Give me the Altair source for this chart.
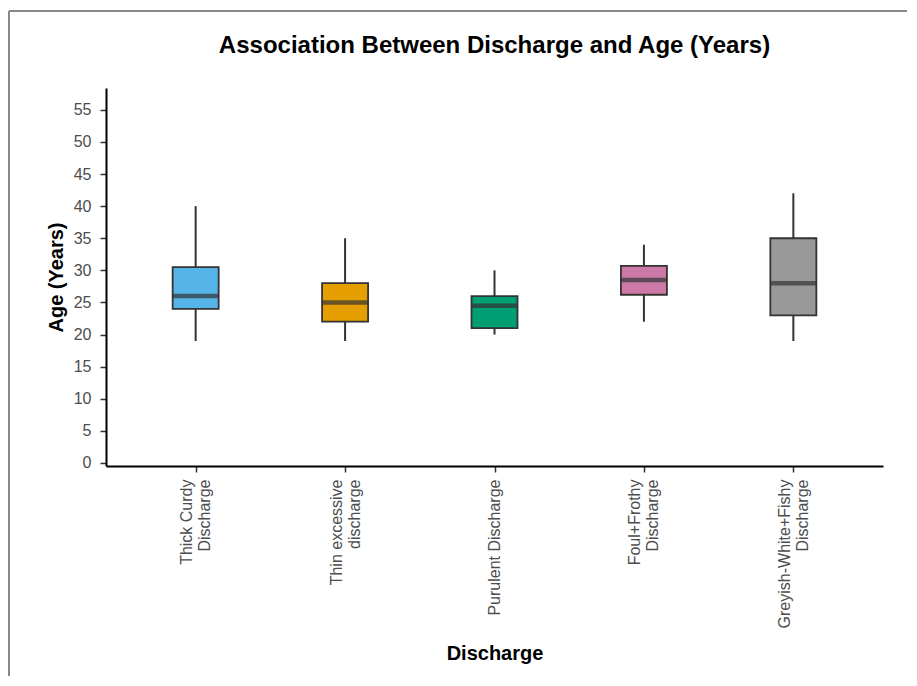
import altair as alt
import pandas as pd

categories = [
    "Thick Curdy\nDischarge",
    "Thin excessive\ndischarge",
    "Purulent Discharge",
    "Foul+Frothy\nDischarge",
    "Greyish-White+Fishy\nDischarge",
]
whisker_low = [19, 19, 20, 22, 19]
q1 = [24, 22, 21, 26.2, 23]
median = [26, 25, 24.5, 28.5, 28]
q3 = [30.5, 28, 26, 30.7, 35]
whisker_high = [40, 35, 30, 34, 42]
colors = ["#56B4E9", "#E69F00", "#009E73", "#CC79A7", "#999999"]
y_ticks = list(range(0, 60, 5))

df = pd.DataFrame({
    "cat": categories,
    "lo": whisker_low,
    "q1": q1,
    "med": median,
    "q3": q3,
    "hi": whisker_high,
})

FONT = "Liberation Sans"
W, H = 777, 378

xenc = alt.X(
    "cat:N",
    sort=categories,
    scale=alt.Scale(type="point", padding=0.6),
    axis=alt.Axis(
        title="Discharge",
        labelAngle=270,
        labelAlign="right",
        labelBaseline="middle",
        labelExpr="split(datum.label, '\\n')",
        labelLineHeight=18,
        labelFontSize=16,
        labelColor="#4d4d4d",
        labelFont=FONT,
        labelPadding=7,
        labelOffset={"condition": {"test": "indexof(datum.value, '\\n') >= 0", "value": -9}, "value": 0},
        tickSize=6,
        tickColor="#333333",
        tickWidth=1.5,
        domainColor="#000000",
        domainWidth=2,
        titleFont=FONT,
        titleFontSize=20,
        titleFontWeight="bold",
        titleColor="#000000",
        titlePadding=16,
        grid=False,
    ),
)
yscale = alt.Scale(domain=[-0.47, 58.4], nice=False, zero=False)
yaxis = alt.Axis(
    title="Age (Years)",
    values=y_ticks,
    labelFontSize=16,
    labelColor="#4d4d4d",
    labelFont=FONT,
    labelPadding=9,
    tickSize=6,
    tickColor="#333333",
    tickWidth=1.5,
    domainColor="#000000",
    domainWidth=2,
    titleFont=FONT,
    titleFontSize=20,
    titleFontWeight="bold",
    titleColor="#000000",
    titlePadding=7,
    grid=False,
)
color = alt.Color("cat:N", scale=alt.Scale(domain=categories, range=colors), legend=None)

base = alt.Chart(df)

one = alt.Data(values=[{"a": 1}])
frame_top = alt.Chart(one).mark_rule(color="#888888", strokeWidth=2).encode(
    x=alt.value(-97), x2=alt.value(801), y=alt.value(-77)
)
frame_left = alt.Chart(one).mark_rule(color="#888888", strokeWidth=2).encode(
    x=alt.value(-97), y=alt.value(-77), y2=alt.value(588)
)

whisk = base.mark_rule(color="#333333", strokeWidth=2).encode(
    x=xenc, y=alt.Y("lo:Q", scale=yscale, axis=yaxis), y2="hi:Q"
)
box = base.mark_bar(size=46, stroke="#333333", strokeWidth=1.8).encode(
    x=xenc, y=alt.Y("q1:Q", scale=yscale, axis=yaxis), y2="q3:Q", color=color
)
med = base.mark_tick(size=46, thickness=4.5, color="#333333").encode(
    x=xenc, y=alt.Y("med:Q", scale=yscale, axis=yaxis)
)

chart = alt.layer(frame_top, frame_left, whisk, box, med).properties(
    width=W,
    height=H,
    background="white",
    title=alt.TitleParams(
        "Association Between Discharge and Age (Years)",
        font=FONT,
        fontSize=24,
        fontWeight="bold",
        color="#000000",
        anchor="middle",
        offset=-48,
    ),
    padding={"left": 0, "top": 2, "right": 0, "bottom": 0},
).configure_view(stroke="transparent", strokeWidth=0)

chart.save("out.html", embed_options={"renderer": "svg", "actions": False})
